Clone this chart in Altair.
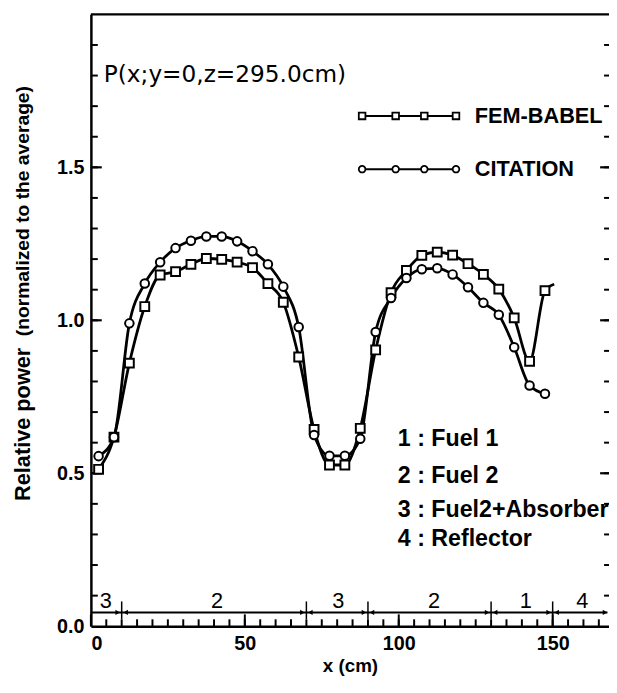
import altair as alt
import pandas as pd

# ---------------- data ----------------
x_nodes = [2.5, 7.5, 12.5, 17.5, 22.5, 27.5, 32.5, 37.5, 42.5, 47.5,
           52.5, 57.5, 62.5, 67.5, 72.5, 77.5, 82.5, 87.5, 92.5, 97.5,
           102.5, 107.5, 112.5, 117.5, 122.5, 127.5, 132.5, 137.5, 142.5, 147.5]
fem_babel = [0.513, 0.618, 0.86, 1.045, 1.148, 1.159, 1.183, 1.202, 1.199, 1.19,
             1.172, 1.12, 1.059, 0.88, 0.643, 0.527, 0.527, 0.647, 0.903, 1.09,
             1.163, 1.212, 1.223, 1.213, 1.185, 1.15, 1.102, 1.008, 0.866, 1.097]
citation = [0.556, 0.618, 0.99, 1.12, 1.19, 1.236, 1.26, 1.274, 1.274, 1.258,
            1.226, 1.183, 1.11, 0.978, 0.625, 0.557, 0.557, 0.613, 0.962, 1.073,
            1.138, 1.167, 1.17, 1.15, 1.108, 1.057, 1.018, 0.912, 0.787, 0.76]
# FEM-BABEL curve continues past its last node (no marker there)
fem_tail_x = [150.5]
fem_tail_y = [1.118]

# legend samples (data coordinates)
legend_sample_x = [88.1, 99.0, 108.3, 118.6]
legend_names = ["FEM-BABEL", "CITATION"]
legend_rows_y = [1.668, 1.494]
legend_text_x = 124.7

# region bar
region_bounds = [10, 70, 90, 130, 150]
region_label_x = [4.8, 41.0, 80.4, 111.5, 141.3, 159.6]
region_labels = ["3", "2", "3", "2", "1", "4"]
region_bar_y = 0.045
region_label_y = 0.083
region_key = ["1 : Fuel 1", "2 : Fuel 2", "3 : Fuel2+Absorber", "4 : Reflector"]
region_key_y = [0.613, 0.49, 0.381, 0.284]
region_key_x = 99.7

x_major = [0, 50, 100, 150]
y_major = [0.0, 0.5, 1.0, 1.5]
x_minor = [v for v in range(5, 170, 5)]
y_minor = [round(v * 0.1, 1) for v in range(1, 20)]

X_MAX = 168.3
Y_MAX = 2.0
W, H = 525, 620
PX_X = X_MAX / W      # data units per pixel, x
PX_Y = Y_MAX / H      # data units per pixel, y
FONT = "Liberation Sans"

xs = alt.Scale(domain=[0, X_MAX], nice=False, zero=False)
ys = alt.Scale(domain=[0, Y_MAX], nice=False, zero=False)

x_axis = alt.Axis(
    values=x_major, format="d", tickSize=0, labelFontSize=20, labelFont=FONT,
    labelFontWeight="bold", labelColor="black", labelPadding=8,
    domainColor="black", domainWidth=2.5, grid=False,
    title="x (cm)", titleFont=FONT, titleFontSize=19, titleFontWeight="bold",
    titleColor="black", titleY=40, titleBaseline="middle")
y_axis = alt.Axis(
    values=y_major, format=".1f", tickSize=0, labelFontSize=20, labelFont=FONT,
    labelFontWeight="bold", labelColor="black", labelPadding=7,
    domainColor="black", domainWidth=2.5, grid=False, title="")


def X(**kw):
    return alt.X("x:Q", scale=xs, axis=x_axis, **kw)


def Y(**kw):
    return alt.Y("y:Q", scale=ys, axis=y_axis, **kw)


# ---------------- data frames ----------------
fem_df = pd.DataFrame({"x": x_nodes, "y": fem_babel})
fem_line_df = pd.DataFrame({"x": x_nodes + fem_tail_x, "y": fem_babel + fem_tail_y})
cit_df = pd.DataFrame({"x": x_nodes, "y": citation})

leg_fem = pd.DataFrame({"x": legend_sample_x, "y": [legend_rows_y[0]] * 4})
leg_cit = pd.DataFrame({"x": legend_sample_x, "y": [legend_rows_y[1]] * 4})
leg_txt = pd.DataFrame({"x": [legend_text_x] * 2, "y": legend_rows_y, "t": legend_names})

# inward tick marks (lengths in pixels converted through the scales)
ymaj_vals = [v for v in y_major if v > 0]
xt_min_df = pd.DataFrame({"x": x_minor, "y": 0.0, "y2": 7 * PX_Y})
xt_maj_df = pd.DataFrame({"x": x_major, "y": 0.0, "y2": 12 * PX_Y})
yl_min_df = pd.DataFrame({"y": y_minor, "x": 0.0, "x2": 7 * PX_X})
yl_maj_df = pd.DataFrame({"y": ymaj_vals, "x": 0.0, "x2": 11 * PX_X})
yr_min_df = pd.DataFrame({"y": y_minor, "x": X_MAX - 5 * PX_X, "x2": X_MAX})
yr_maj_df = pd.DataFrame({"y": ymaj_vals, "x": X_MAX - 9 * PX_X, "x2": X_MAX})
top_df = pd.DataFrame({"x": [0.0], "x2": [X_MAX], "y": [Y_MAX]})

bar_df = pd.DataFrame({"x": [0], "x2": [X_MAX - 0.5], "y": [region_bar_y]})
bound_df = pd.DataFrame({"x": region_bounds, "y": [region_bar_y - 0.022] * len(region_bounds),
                         "y2": [region_bar_y + 0.036] * len(region_bounds)})
arrow_off = 1.3
arr_r = pd.DataFrame({"x": [b - arrow_off for b in region_bounds] + [X_MAX - 1.3],
                      "y": [region_bar_y] * (len(region_bounds) + 1)})
arr_l = pd.DataFrame({"x": [b + arrow_off for b in region_bounds],
                      "y": [region_bar_y] * len(region_bounds)})
reg_lab = pd.DataFrame({"x": region_label_x, "y": [region_label_y] * 6, "t": region_labels})
reg_key = pd.DataFrame({"x": [region_key_x] * 4, "y": region_key_y, "t": region_key})

title_df = pd.DataFrame({"x": [4.2], "y": [1.80], "t": ["P(x;y=0,z=295.0cm)"]})
ytitle_df = pd.DataFrame({"x": [-22.1, -22.1], "y": [0.66, 1.357],
                          "t": ["Relative power", "(normalized to the average)"],
                          "s": [22, 19.5]})

# ---------------- layers ----------------
def hrule(df, sw):
    return alt.Chart(df).mark_rule(color="black", strokeWidth=sw).encode(
        x=X(), x2="x2:Q", y=Y())


def vrule(df, sw):
    return alt.Chart(df).mark_rule(color="black", strokeWidth=sw).encode(
        x=X(), y=Y(), y2="y2:Q")


top_frame = hrule(top_df, 2.5)
xt_min = vrule(xt_min_df, 2)
xt_maj = vrule(xt_maj_df, 2)
yl_min = hrule(yl_min_df, 2)
yl_maj = hrule(yl_maj_df, 2.2)
yr_min = hrule(yr_min_df, 2)
yr_maj = hrule(yr_maj_df, 2.2)

fem_line = alt.Chart(fem_line_df).mark_line(
    color="black", strokeWidth=2.8, interpolate="monotone").encode(x=X(), y=Y())
cit_line = alt.Chart(cit_df).mark_line(
    color="black", strokeWidth=2.8, interpolate="monotone").encode(x=X(), y=Y())
fem_pts = alt.Chart(fem_df).mark_point(
    shape="square", filled=True, fill="white", stroke="black", strokeWidth=2,
    size=80, opacity=1).encode(x=X(), y=Y())
cit_pts = alt.Chart(cit_df).mark_point(
    shape="circle", filled=True, fill="white", stroke="black", strokeWidth=2,
    size=75, opacity=1).encode(x=X(), y=Y())

leg_fem_line = alt.Chart(leg_fem).mark_line(color="black", strokeWidth=2).encode(x=X(), y=Y())
leg_cit_line = alt.Chart(leg_cit).mark_line(color="black", strokeWidth=2).encode(x=X(), y=Y())
leg_fem_pts = alt.Chart(leg_fem).mark_point(
    shape="square", filled=True, fill="white", stroke="black", strokeWidth=1.8,
    size=45, opacity=1).encode(x=X(), y=Y())
leg_cit_pts = alt.Chart(leg_cit).mark_point(
    shape="circle", filled=True, fill="white", stroke="black", strokeWidth=1.8,
    size=45, opacity=1).encode(x=X(), y=Y())
leg_text = alt.Chart(leg_txt).mark_text(
    align="left", baseline="middle", font=FONT, fontSize=22, fontWeight="bold",
    color="black").encode(x=X(), y=Y(), text="t:N")

bar = hrule(bar_df, 2)
bounds = vrule(bound_df, 1.5)
arrows_r = alt.Chart(arr_r).mark_point(
    shape="triangle-right", filled=True, color="black", size=28, opacity=1).encode(x=X(), y=Y())
arrows_l = alt.Chart(arr_l).mark_point(
    shape="triangle-left", filled=True, color="black", size=28, opacity=1).encode(x=X(), y=Y())
reg_labels = alt.Chart(reg_lab).mark_text(
    align="center", baseline="middle", font=FONT, fontSize=22, color="black").encode(
    x=X(), y=Y(), text="t:N")
reg_keys = alt.Chart(reg_key).mark_text(
    align="left", baseline="middle", font=FONT, fontSize=23.5, fontWeight="bold",
    color="black").encode(x=X(), y=Y(), text="t:N")

title_txt = alt.Chart(title_df).mark_text(
    align="left", baseline="middle", font="DejaVu Sans", fontSize=23.5, color="black").encode(
    x=X(), y=Y(), text="t:N")
ytitle = alt.Chart(ytitle_df).mark_text(
    align="center", baseline="middle", font=FONT, fontWeight="bold", angle=270,
    color="black").encode(x=X(), y=Y(), text="t:N",
                          size=alt.Size("s:Q", scale=None, legend=None))

chart = alt.layer(
    top_frame, xt_min, xt_maj, yl_min, yl_maj, yr_min, yr_maj,
    fem_line, cit_line, fem_pts, cit_pts,
    leg_fem_line, leg_cit_line, leg_fem_pts, leg_cit_pts, leg_text,
    bar, bounds, arrows_r, arrows_l, reg_labels, reg_keys, title_txt, ytitle,
).properties(
    width=W, height=H,
    autosize=alt.AutoSizeParams(type="none"),
    padding={"left": 84, "top": 2, "right": 0, "bottom": 47},
    background="white",
).configure_view(stroke=None)

chart.save("out.html", embed_options={"renderer": "svg", "actions": False})
